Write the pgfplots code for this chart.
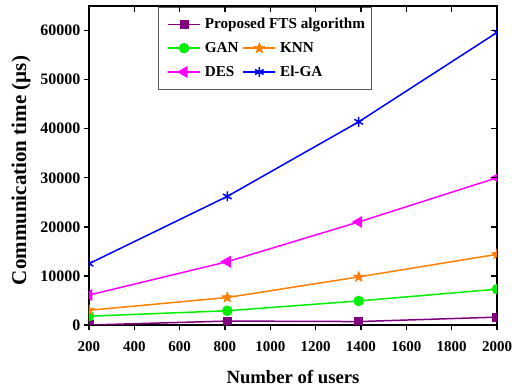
\documentclass[border=0pt]{standalone}
\usepackage{pgfplots}
\pgfplotsset{compat=1.18}
\usepackage{fontspec}
\setmainfont{Liberation Serif}
\definecolor{cfts}{RGB}{128,0,128}
\definecolor{cgan}{RGB}{0,240,0}
\definecolor{cknn}{RGB}{255,128,0}
\definecolor{cdes}{RGB}{255,0,255}
\definecolor{cel}{RGB}{0,0,255}
\pgfdeclareplotmark{fstar}{%
  \pgfpathmoveto{\pgfqpointpolar{90}{\pgfplotmarksize}}%
  \pgfpathlineto{\pgfqpointpolar{126}{0.42\pgfplotmarksize}}%
  \pgfpathlineto{\pgfqpointpolar{162}{\pgfplotmarksize}}%
  \pgfpathlineto{\pgfqpointpolar{198}{0.42\pgfplotmarksize}}%
  \pgfpathlineto{\pgfqpointpolar{234}{\pgfplotmarksize}}%
  \pgfpathlineto{\pgfqpointpolar{270}{0.42\pgfplotmarksize}}%
  \pgfpathlineto{\pgfqpointpolar{306}{\pgfplotmarksize}}%
  \pgfpathlineto{\pgfqpointpolar{342}{0.42\pgfplotmarksize}}%
  \pgfpathlineto{\pgfqpointpolar{18}{\pgfplotmarksize}}%
  \pgfpathlineto{\pgfqpointpolar{54}{0.42\pgfplotmarksize}}%
  \pgfpathclose
  \pgfusepathqfillstroke}
\begin{document}
\begin{tikzpicture}
\begin{axis}[
  name=ax,
  scale only axis,
  width=408pt, height=319pt,
  xmin=200, xmax=2000, ymin=0, ymax=65000,
  xtick={200,400,...,2000},
  ytick={0,10000,...,60000},
  scaled ticks=false,
  /pgf/number format/assume math mode=true,
  /pgf/number format/set thousands separator={},
  x tick label style={font=\bfseries\fontsize{15}{15}\selectfont, yshift=-8pt},
  y tick label style={font=\bfseries\fontsize{16}{16}\selectfont},
  xlabel={Number of users},
  ylabel={Communication time (µs)},
  xlabel style={font=\bfseries\fontsize{18.7}{18.7}\selectfont, yshift=-12pt},
  ylabel style={font=\bfseries\fontsize{21}{21}\selectfont, yshift=3pt, xshift=-5pt},
  tick align=outside, xtick pos=bottom, ytick pos=left,
  major tick length=5pt,
  axis line style={line width=1.6pt},
  tick style={line width=1.4pt, black},
  clip marker paths=true,
  every axis plot/.append style={line width=1.5pt},
  legend style={at={(rel axis cs:0.169,0.997)}, anchor=north west,
    draw=gray!70!black, line width=0.8pt,
    font=\bfseries\fontsize{15.2}{15.2}\selectfont,
    row sep=8pt, inner xsep=9pt, inner ysep=9pt,
    nodes={inner xsep=4pt},
    /tikz/every even column/.append style={column sep=0pt}},
  legend columns=2,
  legend cell align=left,
  legend image code/.code={
    \draw[mark repeat=2,mark phase=2] plot coordinates {(0pt,0pt) (16pt,0pt) (32pt,0pt)};},
]
\addplot[color=cfts, mark=square*, mark size=3.8pt] coordinates {(200,0) (810,800) (1390,700) (2000,1600)};
\addlegendentry{\makebox[0pt][l]{Proposed FTS algorithm}}
\addlegendimage{empty legend}
\addlegendentry{}
\addplot[color=cgan, mark=*, mark size=4.5pt] coordinates {(200,1800) (810,2900) (1390,4900) (2000,7300)};
\addlegendentry{GAN}
\addplot[color=cknn, mark=fstar, mark size=5.5pt, mark options={line width=0.6pt}] coordinates {(200,3000) (810,5600) (1390,9800) (2000,14400)};
\addlegendentry{KNN}
\addplot[color=cdes, mark=triangle*, mark size=5.5pt, mark options={rotate=90}] coordinates {(200,6100) (810,12900) (1390,21000) (2000,30000)};
\addlegendentry{DES}
\addplot[color=cel, mark=asterisk, mark size=5pt] coordinates {(200,12500) (810,26200) (1390,41400) (2000,59600)};
\addlegendentry{\makebox[78pt][l]{El-GA}}
\end{axis}
\begin{axis}[
  scale only axis,
  width=408pt, height=319pt,
  xmin=200, xmax=2000, ymin=0, ymax=65000,
  xtick={200,400,...,2000},
  ytick={0,10000,...,60000},
  scaled ticks=false,
  xticklabels={}, yticklabels={},
  tick align=inside, xtick pos=top, ytick pos=right,
  major tick length=6pt,
  axis line style={draw=none},
  tick style={line width=1.4pt, black},
]
\end{axis}
\pgfresetboundingbox
\path ([shift={(-89pt,-66pt)}]ax.south west) rectangle ([shift={(15pt,6pt)}]ax.north east);
\end{tikzpicture}
\end{document}
